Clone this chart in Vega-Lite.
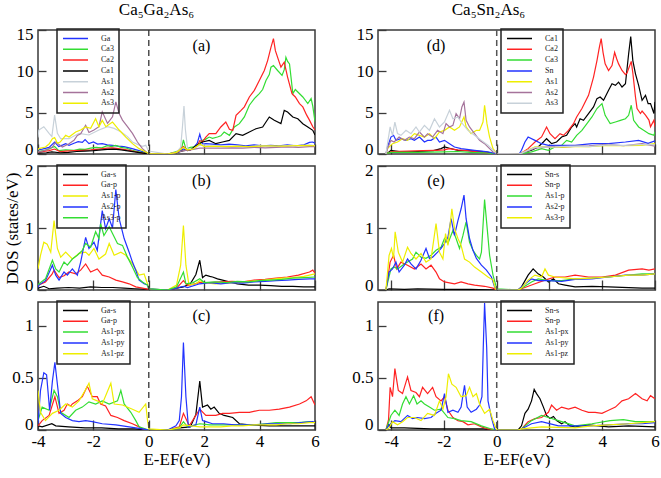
{
"$schema":"https://vega.github.io/schema/vega-lite/v6.json",
"padding":{"left":2,"top":0,"right":0,"bottom":0},
"config":{
"font":"Liberation Serif",
"view":{"stroke":"#3a3a3a","strokeWidth":1.5},
"axis":{"domain":false,"grid":false,"tickColor":"#3a3a3a","tickWidth":1.3,"labelFont":"Liberation Serif","labelFontSize":17,"labelColor":"#000","labelFlush":false,"labelOverlap":false,"titleFont":"Liberation Serif","titleFontSize":17,"titleFontWeight":"normal","titleColor":"#000"},
"axisY":{"labelFlush":true,"labelFlushOffset":4},
"legend":{"strokeColor":"#222","strokeWidth":1.5,"padding":5,"symbolType":"stroke","symbolSize":625,"symbolStrokeWidth":1.5,"labelFont":"Liberation Serif","labelFontSize":8,"labelColor":"#222","labelOffset":12,"clipHeight":9,"rowPadding":1.8},
"title":{"font":"Liberation Serif","fontSize":17,"fontWeight":"normal","color":"#000"}
},
"datasets":{
"a":[
{"s":"Ga","x":-4,"y":0.5},{"s":"Ga","x":-3.85,"y":0.6},{"s":"Ga","x":-3.6,"y":0.8},{"s":"Ga","x":-3.4,"y":1.45},{"s":"Ga","x":-3.25,"y":0.9},{"s":"Ga","x":-3.1,"y":1.1},{"s":"Ga","x":-3,"y":1.25},{"s":"Ga","x":-2.88,"y":1.05},{"s":"Ga","x":-2.7,"y":1.3},{"s":"Ga","x":-2.55,"y":1.5},{"s":"Ga","x":-2.4,"y":1.4},{"s":"Ga","x":-2.3,"y":1.75},{"s":"Ga","x":-2.16,"y":1.25},{"s":"Ga","x":-2,"y":1.45},{"s":"Ga","x":-1.85,"y":1.2},{"s":"Ga","x":-1.68,"y":1.25},{"s":"Ga","x":-1.5,"y":1.1},{"s":"Ga","x":-1.31,"y":1.05},{"s":"Ga","x":-1.1,"y":0.95},{"s":"Ga","x":-0.9,"y":0.9},{"s":"Ga","x":-0.6,"y":0.65},{"s":"Ga","x":-0.35,"y":0.4},{"s":"Ga","x":-0.15,"y":0.2},{"s":"Ga","x":0,"y":0.05},
{"s":"Ga","x":0.68,"y":0},{"s":"Ga","x":0.9,"y":0.1},{"s":"Ga","x":1.1,"y":0.3},{"s":"Ga","x":1.25,"y":0.6},{"s":"Ga","x":1.4,"y":0.4},{"s":"Ga","x":1.6,"y":0.7},{"s":"Ga","x":1.75,"y":1.3},{"s":"Ga","x":1.84,"y":2.4},{"s":"Ga","x":1.94,"y":1.2},{"s":"Ga","x":2.06,"y":1.25},{"s":"Ga","x":2.3,"y":1.2},{"s":"Ga","x":2.6,"y":1.1},{"s":"Ga","x":2.9,"y":1.2},{"s":"Ga","x":3.2,"y":1.1},{"s":"Ga","x":3.5,"y":1},{"s":"Ga","x":3.8,"y":1.1},{"s":"Ga","x":4.1,"y":1},{"s":"Ga","x":4.4,"y":1.05},{"s":"Ga","x":4.7,"y":1},{"s":"Ga","x":5,"y":1.1},{"s":"Ga","x":5.3,"y":1},{"s":"Ga","x":5.6,"y":1.1},{"s":"Ga","x":5.8,"y":1.4},{"s":"Ga","x":5.92,"y":1.45},{"s":"Ga","x":6,"y":1.3},
{"s":"Ca3","x":-4,"y":0.3},{"s":"Ca3","x":-3.8,"y":0.4},{"s":"Ca3","x":-3.6,"y":0.6},{"s":"Ca3","x":-3.4,"y":0.9},{"s":"Ca3","x":-3.25,"y":0.4},{"s":"Ca3","x":-3,"y":0.5},{"s":"Ca3","x":-2.7,"y":0.45},{"s":"Ca3","x":-2.5,"y":0.6},{"s":"Ca3","x":-2.3,"y":0.55},{"s":"Ca3","x":-2.1,"y":0.7},{"s":"Ca3","x":-1.9,"y":0.8},{"s":"Ca3","x":-1.7,"y":0.75},{"s":"Ca3","x":-1.5,"y":1},{"s":"Ca3","x":-1.35,"y":0.9},{"s":"Ca3","x":-1.2,"y":1.05},{"s":"Ca3","x":-1,"y":0.8},{"s":"Ca3","x":-0.8,"y":0.7},{"s":"Ca3","x":-0.6,"y":0.45},{"s":"Ca3","x":-0.4,"y":0.3},{"s":"Ca3","x":-0.2,"y":0.15},{"s":"Ca3","x":0,"y":0.02},
{"s":"Ca3","x":0.68,"y":0},{"s":"Ca3","x":1,"y":0.3},{"s":"Ca3","x":1.18,"y":0.6},{"s":"Ca3","x":1.25,"y":1.7},{"s":"Ca3","x":1.34,"y":0.6},{"s":"Ca3","x":1.5,"y":0.8},{"s":"Ca3","x":1.7,"y":0.9},{"s":"Ca3","x":1.84,"y":1.3},{"s":"Ca3","x":1.94,"y":1.65},{"s":"Ca3","x":2.06,"y":1.8},{"s":"Ca3","x":2.18,"y":2.05},{"s":"Ca3","x":2.3,"y":1.9},{"s":"Ca3","x":2.48,"y":2.06},{"s":"Ca3","x":2.6,"y":2.2},{"s":"Ca3","x":2.72,"y":2.66},{"s":"Ca3","x":2.91,"y":2.26},{"s":"Ca3","x":3.09,"y":3.27},{"s":"Ca3","x":3.27,"y":3.67},{"s":"Ca3","x":3.45,"y":4.48},{"s":"Ca3","x":3.63,"y":5.9},{"s":"Ca3","x":3.81,"y":6.7},{"s":"Ca3","x":3.99,"y":7.3},{"s":"Ca3","x":4.11,"y":7.8},{"s":"Ca3","x":4.23,"y":8.9},{"s":"Ca3","x":4.35,"y":9.6},{"s":"Ca3","x":4.41,"y":10.5},{"s":"Ca3","x":4.5,"y":10.7},{"s":"Ca3","x":4.65,"y":10.1},{"s":"Ca3","x":4.81,"y":9.5},{"s":"Ca3","x":4.89,"y":10.2},{"s":"Ca3","x":4.95,"y":11.7},{"s":"Ca3","x":5.01,"y":11.2},{"s":"Ca3","x":5.08,"y":10.9},{"s":"Ca3","x":5.2,"y":7.3},{"s":"Ca3","x":5.29,"y":7.8},{"s":"Ca3","x":5.38,"y":7.5},{"s":"Ca3","x":5.56,"y":6.9},{"s":"Ca3","x":5.74,"y":6.1},{"s":"Ca3","x":5.86,"y":6.7},{"s":"Ca3","x":5.92,"y":5.8},{"s":"Ca3","x":6,"y":3.9},
{"s":"Ca2","x":-4,"y":0.2},{"s":"Ca2","x":-3.8,"y":0.3},{"s":"Ca2","x":-3.6,"y":0.4},{"s":"Ca2","x":-3.4,"y":0.6},{"s":"Ca2","x":-3.2,"y":0.3},{"s":"Ca2","x":-3,"y":0.35},{"s":"Ca2","x":-2.7,"y":0.4},{"s":"Ca2","x":-2.4,"y":0.45},{"s":"Ca2","x":-2.1,"y":0.5},{"s":"Ca2","x":-1.8,"y":0.6},{"s":"Ca2","x":-1.5,"y":0.7},{"s":"Ca2","x":-1.3,"y":0.75},{"s":"Ca2","x":-1.1,"y":0.65},{"s":"Ca2","x":-0.8,"y":0.5},{"s":"Ca2","x":-0.5,"y":0.3},{"s":"Ca2","x":-0.25,"y":0.12},{"s":"Ca2","x":0,"y":0.02},
{"s":"Ca2","x":0.68,"y":0},{"s":"Ca2","x":1,"y":0.2},{"s":"Ca2","x":1.25,"y":0.9},{"s":"Ca2","x":1.4,"y":0.4},{"s":"Ca2","x":1.6,"y":0.6},{"s":"Ca2","x":1.75,"y":1},{"s":"Ca2","x":1.84,"y":1.6},{"s":"Ca2","x":1.94,"y":1.5},{"s":"Ca2","x":2.06,"y":2.05},{"s":"Ca2","x":2.18,"y":2.46},{"s":"Ca2","x":2.42,"y":2.46},{"s":"Ca2","x":2.6,"y":3.27},{"s":"Ca2","x":2.78,"y":3.87},{"s":"Ca2","x":2.91,"y":3},{"s":"Ca2","x":3.03,"y":2.86},{"s":"Ca2","x":3.15,"y":4.68},{"s":"Ca2","x":3.33,"y":5.28},{"s":"Ca2","x":3.45,"y":5.7},{"s":"Ca2","x":3.63,"y":6.9},{"s":"Ca2","x":3.81,"y":7.7},{"s":"Ca2","x":3.99,"y":8.9},{"s":"Ca2","x":4.17,"y":10.1},{"s":"Ca2","x":4.29,"y":11.3},{"s":"Ca2","x":4.41,"y":12.9},{"s":"Ca2","x":4.5,"y":13.95},{"s":"Ca2","x":4.57,"y":12.5},{"s":"Ca2","x":4.69,"y":11.3},{"s":"Ca2","x":4.77,"y":10.5},{"s":"Ca2","x":4.89,"y":11.1},{"s":"Ca2","x":5.01,"y":9.3},{"s":"Ca2","x":5.17,"y":7.3},{"s":"Ca2","x":5.29,"y":6.9},{"s":"Ca2","x":5.44,"y":6.1},{"s":"Ca2","x":5.56,"y":5.7},{"s":"Ca2","x":5.7,"y":4.7},{"s":"Ca2","x":5.8,"y":4.1},{"s":"Ca2","x":5.92,"y":3.3},{"s":"Ca2","x":6,"y":2.9},
{"s":"Ca1","x":-4,"y":0.1},{"s":"Ca1","x":-3.7,"y":0.15},{"s":"Ca1","x":-3.5,"y":0.25},{"s":"Ca1","x":-3.2,"y":0.15},{"s":"Ca1","x":-2.9,"y":0.2},{"s":"Ca1","x":-2.6,"y":0.3},{"s":"Ca1","x":-2.3,"y":0.35},{"s":"Ca1","x":-2,"y":0.4},{"s":"Ca1","x":-1.7,"y":0.5},{"s":"Ca1","x":-1.5,"y":0.55},{"s":"Ca1","x":-1.25,"y":0.6},{"s":"Ca1","x":-1,"y":0.5},{"s":"Ca1","x":-0.7,"y":0.35},{"s":"Ca1","x":-0.4,"y":0.2},{"s":"Ca1","x":-0.15,"y":0.08},{"s":"Ca1","x":0,"y":0.01},
{"s":"Ca1","x":0.68,"y":0},{"s":"Ca1","x":1,"y":0.15},{"s":"Ca1","x":1.25,"y":0.4},{"s":"Ca1","x":1.5,"y":0.5},{"s":"Ca1","x":1.7,"y":1},{"s":"Ca1","x":1.94,"y":1.45},{"s":"Ca1","x":2.18,"y":1.65},{"s":"Ca1","x":2.42,"y":1.25},{"s":"Ca1","x":2.66,"y":1.45},{"s":"Ca1","x":2.91,"y":1.65},{"s":"Ca1","x":3.15,"y":2.46},{"s":"Ca1","x":3.39,"y":2.26},{"s":"Ca1","x":3.63,"y":2.66},{"s":"Ca1","x":3.87,"y":3.06},{"s":"Ca1","x":4.11,"y":3.27},{"s":"Ca1","x":4.35,"y":4.48},{"s":"Ca1","x":4.53,"y":4.07},{"s":"Ca1","x":4.77,"y":3.67},{"s":"Ca1","x":4.89,"y":5.28},{"s":"Ca1","x":5.01,"y":5.08},{"s":"Ca1","x":5.2,"y":4.48},{"s":"Ca1","x":5.38,"y":4.27},{"s":"Ca1","x":5.56,"y":3.67},{"s":"Ca1","x":5.74,"y":3.27},{"s":"Ca1","x":5.92,"y":2.86},{"s":"Ca1","x":6,"y":2.3},
{"s":"As1","x":-4,"y":2},{"s":"As1","x":-3.97,"y":2.9},{"s":"As1","x":-3.79,"y":3.3},{"s":"As1","x":-3.6,"y":2.5},{"s":"As1","x":-3.5,"y":2.1},{"s":"As1","x":-3.4,"y":4.7},{"s":"As1","x":-3.3,"y":2.5},{"s":"As1","x":-3.18,"y":1.85},{"s":"As1","x":-2.88,"y":1.85},{"s":"As1","x":-2.52,"y":2.5},{"s":"As1","x":-2.16,"y":2.3},{"s":"As1","x":-1.8,"y":2.9},{"s":"As1","x":-1.49,"y":3.3},{"s":"As1","x":-1.25,"y":3.1},{"s":"As1","x":-1.01,"y":2.7},{"s":"As1","x":-0.77,"y":2.1},{"s":"As1","x":-0.59,"y":1.45},{"s":"As1","x":-0.41,"y":1.17},{"s":"As1","x":-0.23,"y":0.93},{"s":"As1","x":-0.11,"y":1.05},{"s":"As1","x":-0.01,"y":0.36},
{"s":"As1","x":0.68,"y":0},{"s":"As1","x":1,"y":0.2},{"s":"As1","x":1.15,"y":0.8},{"s":"As1","x":1.22,"y":3.5},{"s":"As1","x":1.27,"y":5.8},{"s":"As1","x":1.32,"y":3},{"s":"As1","x":1.4,"y":0.6},{"s":"As1","x":1.6,"y":0.6},{"s":"As1","x":1.8,"y":1},{"s":"As1","x":1.94,"y":1.1},{"s":"As1","x":2.2,"y":1},{"s":"As1","x":2.5,"y":0.9},{"s":"As1","x":2.8,"y":1},{"s":"As1","x":3.1,"y":0.9},{"s":"As1","x":3.4,"y":0.85},{"s":"As1","x":3.7,"y":0.9},{"s":"As1","x":4,"y":1},{"s":"As1","x":4.3,"y":0.95},{"s":"As1","x":4.6,"y":0.9},{"s":"As1","x":4.9,"y":1},{"s":"As1","x":5.2,"y":1.05},{"s":"As1","x":5.5,"y":1},{"s":"As1","x":5.8,"y":1.1},{"s":"As1","x":6,"y":1},
{"s":"As2","x":-4,"y":0.2},{"s":"As2","x":-3.97,"y":0.25},{"s":"As2","x":-3.73,"y":0.45},{"s":"As2","x":-3.48,"y":0.85},{"s":"As2","x":-3.36,"y":1.45},{"s":"As2","x":-3.12,"y":0.85},{"s":"As2","x":-2.88,"y":1.25},{"s":"As2","x":-2.7,"y":1.65},{"s":"As2","x":-2.58,"y":2.25},{"s":"As2","x":-2.46,"y":2.45},{"s":"As2","x":-2.28,"y":3.47},{"s":"As2","x":-2.16,"y":2.6},{"s":"As2","x":-1.98,"y":2.9},{"s":"As2","x":-1.8,"y":3.3},{"s":"As2","x":-1.68,"y":5.1},{"s":"As2","x":-1.49,"y":3.7},{"s":"As2","x":-1.31,"y":4.5},{"s":"As2","x":-1.19,"y":6.3},{"s":"As2","x":-1.07,"y":4.9},{"s":"As2","x":-0.95,"y":4.1},{"s":"As2","x":-0.77,"y":3.3},{"s":"As2","x":-0.59,"y":2.5},{"s":"As2","x":-0.41,"y":1.45},{"s":"As2","x":-0.23,"y":0.65},{"s":"As2","x":-0.05,"y":0.12},{"s":"As2","x":0,"y":0.05},
{"s":"As2","x":0.68,"y":0},{"s":"As2","x":1,"y":0.2},{"s":"As2","x":1.25,"y":0.4},{"s":"As2","x":1.5,"y":0.5},{"s":"As2","x":1.84,"y":0.7},{"s":"As2","x":2.2,"y":0.7},{"s":"As2","x":2.6,"y":0.7},{"s":"As2","x":3,"y":0.75},{"s":"As2","x":3.4,"y":0.7},{"s":"As2","x":3.8,"y":0.8},{"s":"As2","x":4.2,"y":0.75},{"s":"As2","x":4.6,"y":0.8},{"s":"As2","x":5,"y":0.85},{"s":"As2","x":5.4,"y":0.8},{"s":"As2","x":5.8,"y":0.9},{"s":"As2","x":6,"y":0.9},
{"s":"As3","x":-4,"y":0.5},{"s":"As3","x":-3.97,"y":0.65},{"s":"As3","x":-3.73,"y":0.85},{"s":"As3","x":-3.6,"y":1.2},{"s":"As3","x":-3.48,"y":1.85},{"s":"As3","x":-3.4,"y":2},{"s":"As3","x":-3.3,"y":1.3},{"s":"As3","x":-3.2,"y":1.45},{"s":"As3","x":-3,"y":2.26},{"s":"As3","x":-2.88,"y":2.05},{"s":"As3","x":-2.64,"y":2.66},{"s":"As3","x":-2.46,"y":2.9},{"s":"As3","x":-2.28,"y":3.27},{"s":"As3","x":-2.1,"y":3.1},{"s":"As3","x":-1.92,"y":4.27},{"s":"As3","x":-1.8,"y":3.3},{"s":"As3","x":-1.68,"y":4.07},{"s":"As3","x":-1.55,"y":3.3},{"s":"As3","x":-1.31,"y":3.87},{"s":"As3","x":-1.07,"y":2.9},{"s":"As3","x":-0.83,"y":2.05},{"s":"As3","x":-0.59,"y":1.25},{"s":"As3","x":-0.35,"y":0.65},{"s":"As3","x":-0.11,"y":0.25},{"s":"As3","x":0,"y":0.05},
{"s":"As3","x":0.68,"y":0},{"s":"As3","x":1,"y":0.2},{"s":"As3","x":1.25,"y":0.8},{"s":"As3","x":1.4,"y":0.5},{"s":"As3","x":1.6,"y":0.6},{"s":"As3","x":1.84,"y":1.2},{"s":"As3","x":2,"y":0.9},{"s":"As3","x":2.4,"y":0.95},{"s":"As3","x":2.8,"y":0.9},{"s":"As3","x":3.2,"y":0.95},{"s":"As3","x":3.6,"y":0.9},{"s":"As3","x":4,"y":0.95},{"s":"As3","x":4.4,"y":1},{"s":"As3","x":4.8,"y":0.95},{"s":"As3","x":5.2,"y":1},{"s":"As3","x":5.6,"y":1.05},{"s":"As3","x":6,"y":1}
],
"b":[
{"s":"Ga-s","x":-4,"y":0.03},{"s":"Ga-s","x":-3.79,"y":0.06},{"s":"Ga-s","x":-3.6,"y":0.02},{"s":"Ga-s","x":-3.3,"y":0.03},{"s":"Ga-s","x":-2.9,"y":0.04},{"s":"Ga-s","x":-2.5,"y":0.03},{"s":"Ga-s","x":-2.1,"y":0.05},{"s":"Ga-s","x":-1.7,"y":0.04},{"s":"Ga-s","x":-1.3,"y":0.04},{"s":"Ga-s","x":-0.9,"y":0.03},{"s":"Ga-s","x":-0.5,"y":0.02},{"s":"Ga-s","x":0,"y":0.01},{"s":"Ga-s","x":0.68,"y":0},{"s":"Ga-s","x":1,"y":0.03},{"s":"Ga-s","x":1.25,"y":0.05},{"s":"Ga-s","x":1.5,"y":0.1},{"s":"Ga-s","x":1.7,"y":0.25},{"s":"Ga-s","x":1.84,"y":0.48},{"s":"Ga-s","x":1.94,"y":0.2},{"s":"Ga-s","x":2.06,"y":0.24},{"s":"Ga-s","x":2.2,"y":0.22},{"s":"Ga-s","x":2.3,"y":0.21},{"s":"Ga-s","x":2.48,"y":0.18},{"s":"Ga-s","x":2.66,"y":0.16},{"s":"Ga-s","x":2.9,"y":0.13},{"s":"Ga-s","x":3.2,"y":0.1},{"s":"Ga-s","x":3.6,"y":0.08},{"s":"Ga-s","x":4,"y":0.08},{"s":"Ga-s","x":4.4,"y":0.07},{"s":"Ga-s","x":4.8,"y":0.06},{"s":"Ga-s","x":5.2,"y":0.06},{"s":"Ga-s","x":5.6,"y":0.05},{"s":"Ga-s","x":6,"y":0.05},
{"s":"Ga-p","x":-4,"y":0.05},{"s":"Ga-p","x":-3.97,"y":0.08},{"s":"Ga-p","x":-3.73,"y":0.13},{"s":"Ga-p","x":-3.5,"y":0.25},{"s":"Ga-p","x":-3.42,"y":0.32},{"s":"Ga-p","x":-3.24,"y":0.2},{"s":"Ga-p","x":-3.06,"y":0.23},{"s":"Ga-p","x":-2.88,"y":0.29},{"s":"Ga-p","x":-2.64,"y":0.26},{"s":"Ga-p","x":-2.46,"y":0.32},{"s":"Ga-p","x":-2.28,"y":0.42},{"s":"Ga-p","x":-2.1,"y":0.29},{"s":"Ga-p","x":-1.86,"y":0.34},{"s":"Ga-p","x":-1.68,"y":0.24},{"s":"Ga-p","x":-1.43,"y":0.21},{"s":"Ga-p","x":-1.19,"y":0.16},{"s":"Ga-p","x":-0.95,"y":0.13},{"s":"Ga-p","x":-0.71,"y":0.1},{"s":"Ga-p","x":-0.47,"y":0.05},{"s":"Ga-p","x":-0.23,"y":0.03},{"s":"Ga-p","x":0,"y":0.01},{"s":"Ga-p","x":0.68,"y":0},{"s":"Ga-p","x":1,"y":0.03},{"s":"Ga-p","x":1.25,"y":0.15},{"s":"Ga-p","x":1.4,"y":0.07},{"s":"Ga-p","x":1.84,"y":0.12},{"s":"Ga-p","x":2.2,"y":0.12},{"s":"Ga-p","x":2.6,"y":0.13},{"s":"Ga-p","x":3,"y":0.14},{"s":"Ga-p","x":3.4,"y":0.13},{"s":"Ga-p","x":3.8,"y":0.16},{"s":"Ga-p","x":4.2,"y":0.17},{"s":"Ga-p","x":4.6,"y":0.19},{"s":"Ga-p","x":5,"y":0.21},{"s":"Ga-p","x":5.4,"y":0.24},{"s":"Ga-p","x":5.8,"y":0.29},{"s":"Ga-p","x":5.92,"y":0.32},{"s":"Ga-p","x":6,"y":0.27},
{"s":"As1-p","x":-4,"y":0.34},{"s":"As1-p","x":-3.91,"y":0.56},{"s":"As1-p","x":-3.79,"y":0.77},{"s":"As1-p","x":-3.67,"y":0.74},{"s":"As1-p","x":-3.54,"y":0.61},{"s":"As1-p","x":-3.42,"y":1.12},{"s":"As1-p","x":-3.3,"y":0.67},{"s":"As1-p","x":-3.18,"y":0.53},{"s":"As1-p","x":-3,"y":0.61},{"s":"As1-p","x":-2.76,"y":0.5},{"s":"As1-p","x":-2.52,"y":0.59},{"s":"As1-p","x":-2.28,"y":0.61},{"s":"As1-p","x":-2.16,"y":0.56},{"s":"As1-p","x":-1.98,"y":0.67},{"s":"As1-p","x":-1.8,"y":0.5},{"s":"As1-p","x":-1.56,"y":0.58},{"s":"As1-p","x":-1.43,"y":0.75},{"s":"As1-p","x":-1.25,"y":0.56},{"s":"As1-p","x":-1.01,"y":0.61},{"s":"As1-p","x":-0.83,"y":0.56},{"s":"As1-p","x":-0.59,"y":0.42},{"s":"As1-p","x":-0.35,"y":0.24},{"s":"As1-p","x":-0.17,"y":0.26},{"s":"As1-p","x":-0.05,"y":0.1},{"s":"As1-p","x":0,"y":0.02},{"s":"As1-p","x":0.68,"y":0},{"s":"As1-p","x":1,"y":0.08},{"s":"As1-p","x":1.15,"y":0.4},{"s":"As1-p","x":1.25,"y":1.04},{"s":"As1-p","x":1.34,"y":0.4},{"s":"As1-p","x":1.45,"y":0.08},{"s":"As1-p","x":1.7,"y":0.1},{"s":"As1-p","x":1.84,"y":0.15},{"s":"As1-p","x":2,"y":0.12},{"s":"As1-p","x":2.4,"y":0.1},{"s":"As1-p","x":2.8,"y":0.11},{"s":"As1-p","x":3.2,"y":0.12},{"s":"As1-p","x":3.6,"y":0.14},{"s":"As1-p","x":4,"y":0.15},{"s":"As1-p","x":4.4,"y":0.17},{"s":"As1-p","x":4.8,"y":0.19},{"s":"As1-p","x":5.2,"y":0.2},{"s":"As1-p","x":5.6,"y":0.22},{"s":"As1-p","x":6,"y":0.26},
{"s":"As2-p","x":-4,"y":0.04},{"s":"As2-p","x":-3.97,"y":0.08},{"s":"As2-p","x":-3.73,"y":0.15},{"s":"As2-p","x":-3.48,"y":0.4},{"s":"As2-p","x":-3.36,"y":0.24},{"s":"As2-p","x":-3.24,"y":0.16},{"s":"As2-p","x":-3.06,"y":0.29},{"s":"As2-p","x":-2.94,"y":0.24},{"s":"As2-p","x":-2.76,"y":0.34},{"s":"As2-p","x":-2.58,"y":0.24},{"s":"As2-p","x":-2.46,"y":0.45},{"s":"As2-p","x":-2.28,"y":0.85},{"s":"As2-p","x":-2.16,"y":0.67},{"s":"As2-p","x":-1.98,"y":0.77},{"s":"As2-p","x":-1.86,"y":0.64},{"s":"As2-p","x":-1.68,"y":1.28},{"s":"As2-p","x":-1.56,"y":0.99},{"s":"As2-p","x":-1.43,"y":1.15},{"s":"As2-p","x":-1.31,"y":1},{"s":"As2-p","x":-1.19,"y":1.62},{"s":"As2-p","x":-1.07,"y":1.15},{"s":"As2-p","x":-0.89,"y":0.83},{"s":"As2-p","x":-0.71,"y":0.61},{"s":"As2-p","x":-0.59,"y":0.45},{"s":"As2-p","x":-0.47,"y":0.32},{"s":"As2-p","x":-0.35,"y":0.16},{"s":"As2-p","x":-0.17,"y":0.1},{"s":"As2-p","x":-0.05,"y":0.08},{"s":"As2-p","x":0,"y":0.02},{"s":"As2-p","x":0.68,"y":0},{"s":"As2-p","x":1,"y":0.03},{"s":"As2-p","x":1.25,"y":0.06},{"s":"As2-p","x":1.4,"y":0.04},{"s":"As2-p","x":1.84,"y":0.1},{"s":"As2-p","x":2.2,"y":0.12},{"s":"As2-p","x":2.6,"y":0.1},{"s":"As2-p","x":3,"y":0.12},{"s":"As2-p","x":3.4,"y":0.11},{"s":"As2-p","x":3.8,"y":0.13},{"s":"As2-p","x":4.2,"y":0.14},{"s":"As2-p","x":4.6,"y":0.15},{"s":"As2-p","x":5,"y":0.16},{"s":"As2-p","x":5.4,"y":0.17},{"s":"As2-p","x":5.8,"y":0.18},{"s":"As2-p","x":6,"y":0.18},
{"s":"As3-p","x":-4,"y":0.08},{"s":"As3-p","x":-3.97,"y":0.1},{"s":"As3-p","x":-3.73,"y":0.18},{"s":"As3-p","x":-3.48,"y":0.48},{"s":"As3-p","x":-3.36,"y":0.34},{"s":"As3-p","x":-3.24,"y":0.29},{"s":"As3-p","x":-3.06,"y":0.45},{"s":"As3-p","x":-2.94,"y":0.4},{"s":"As3-p","x":-2.76,"y":0.5},{"s":"As3-p","x":-2.58,"y":0.56},{"s":"As3-p","x":-2.4,"y":0.64},{"s":"As3-p","x":-2.28,"y":0.75},{"s":"As3-p","x":-2.1,"y":0.69},{"s":"As3-p","x":-1.92,"y":0.94},{"s":"As3-p","x":-1.8,"y":0.83},{"s":"As3-p","x":-1.74,"y":1.07},{"s":"As3-p","x":-1.62,"y":0.88},{"s":"As3-p","x":-1.43,"y":1.02},{"s":"As3-p","x":-1.31,"y":0.91},{"s":"As3-p","x":-1.13,"y":0.75},{"s":"As3-p","x":-0.95,"y":0.72},{"s":"As3-p","x":-0.77,"y":0.53},{"s":"As3-p","x":-0.59,"y":0.37},{"s":"As3-p","x":-0.41,"y":0.2},{"s":"As3-p","x":-0.23,"y":0.13},{"s":"As3-p","x":-0.05,"y":0.08},{"s":"As3-p","x":0,"y":0.02},{"s":"As3-p","x":0.68,"y":0},{"s":"As3-p","x":1,"y":0.05},{"s":"As3-p","x":1.25,"y":0.29},{"s":"As3-p","x":1.34,"y":0.1},{"s":"As3-p","x":1.6,"y":0.12},{"s":"As3-p","x":1.84,"y":0.18},{"s":"As3-p","x":2,"y":0.12},{"s":"As3-p","x":2.4,"y":0.13},{"s":"As3-p","x":2.8,"y":0.12},{"s":"As3-p","x":3.2,"y":0.14},{"s":"As3-p","x":3.6,"y":0.13},{"s":"As3-p","x":4,"y":0.15},{"s":"As3-p","x":4.4,"y":0.16},{"s":"As3-p","x":4.8,"y":0.17},{"s":"As3-p","x":5.2,"y":0.19},{"s":"As3-p","x":5.6,"y":0.2},{"s":"As3-p","x":6,"y":0.21}
],
"c":[
{"s":"Ga-s","x":-4,"y":0.04},{"s":"Ga-s","x":-3.85,"y":0.03},{"s":"Ga-s","x":-3.5,"y":0.06},{"s":"Ga-s","x":-3.36,"y":0.04},{"s":"Ga-s","x":-2.9,"y":0.03},{"s":"Ga-s","x":-2.3,"y":0.02},{"s":"Ga-s","x":-1.7,"y":0.02},{"s":"Ga-s","x":-1.1,"y":0.01},{"s":"Ga-s","x":-0.5,"y":0.01},{"s":"Ga-s","x":0,"y":0},{"s":"Ga-s","x":0.68,"y":0},{"s":"Ga-s","x":1.1,"y":0.02},{"s":"Ga-s","x":1.5,"y":0.03},{"s":"Ga-s","x":1.7,"y":0.15},{"s":"Ga-s","x":1.84,"y":0.47},{"s":"Ga-s","x":1.94,"y":0.22},{"s":"Ga-s","x":2.12,"y":0.24},{"s":"Ga-s","x":2.24,"y":0.2},{"s":"Ga-s","x":2.36,"y":0.22},{"s":"Ga-s","x":2.54,"y":0.16},{"s":"Ga-s","x":2.72,"y":0.14},{"s":"Ga-s","x":3.03,"y":0.12},{"s":"Ga-s","x":3.27,"y":0.06},{"s":"Ga-s","x":3.63,"y":0.05},{"s":"Ga-s","x":4.35,"y":0.04},{"s":"Ga-s","x":5.56,"y":0.04},{"s":"Ga-s","x":6,"y":0.04},
{"s":"Ga-p","x":-4,"y":0.04},{"s":"Ga-p","x":-3.85,"y":0.09},{"s":"Ga-p","x":-3.6,"y":0.14},{"s":"Ga-p","x":-3.39,"y":0.32},{"s":"Ga-p","x":-3.24,"y":0.16},{"s":"Ga-p","x":-3.06,"y":0.19},{"s":"Ga-p","x":-2.94,"y":0.25},{"s":"Ga-p","x":-2.82,"y":0.23},{"s":"Ga-p","x":-2.76,"y":0.25},{"s":"Ga-p","x":-2.58,"y":0.28},{"s":"Ga-p","x":-2.4,"y":0.32},{"s":"Ga-p","x":-2.22,"y":0.42},{"s":"Ga-p","x":-2.04,"y":0.32},{"s":"Ga-p","x":-1.86,"y":0.32},{"s":"Ga-p","x":-1.74,"y":0.25},{"s":"Ga-p","x":-1.56,"y":0.23},{"s":"Ga-p","x":-1.37,"y":0.14},{"s":"Ga-p","x":-1.13,"y":0.12},{"s":"Ga-p","x":-0.89,"y":0.09},{"s":"Ga-p","x":-0.59,"y":0.06},{"s":"Ga-p","x":-0.35,"y":0.03},{"s":"Ga-p","x":-0.23,"y":0.01},{"s":"Ga-p","x":0,"y":0},{"s":"Ga-p","x":0.68,"y":0},{"s":"Ga-p","x":1.1,"y":0.03},{"s":"Ga-p","x":1.25,"y":0.16},{"s":"Ga-p","x":1.46,"y":0.04},{"s":"Ga-p","x":1.84,"y":0.2},{"s":"Ga-p","x":2.06,"y":0.14},{"s":"Ga-p","x":2.42,"y":0.14},{"s":"Ga-p","x":2.66,"y":0.16},{"s":"Ga-p","x":2.91,"y":0.16},{"s":"Ga-p","x":3.27,"y":0.17},{"s":"Ga-p","x":3.63,"y":0.17},{"s":"Ga-p","x":3.99,"y":0.19},{"s":"Ga-p","x":4.35,"y":0.19},{"s":"Ga-p","x":4.71,"y":0.2},{"s":"Ga-p","x":5.08,"y":0.22},{"s":"Ga-p","x":5.44,"y":0.25},{"s":"Ga-p","x":5.68,"y":0.28},{"s":"Ga-p","x":5.86,"y":0.32},{"s":"Ga-p","x":6,"y":0.24},
{"s":"As1-px","x":-4,"y":0.09},{"s":"As1-px","x":-3.85,"y":0.22},{"s":"As1-px","x":-3.6,"y":0.19},{"s":"As1-px","x":-3.42,"y":0.38},{"s":"As1-px","x":-3.3,"y":0.32},{"s":"As1-px","x":-3.18,"y":0.17},{"s":"As1-px","x":-2.88,"y":0.12},{"s":"As1-px","x":-2.64,"y":0.19},{"s":"As1-px","x":-2.4,"y":0.22},{"s":"As1-px","x":-2.16,"y":0.27},{"s":"As1-px","x":-1.92,"y":0.25},{"s":"As1-px","x":-1.68,"y":0.28},{"s":"As1-px","x":-1.43,"y":0.25},{"s":"As1-px","x":-1.13,"y":0.28},{"s":"As1-px","x":-1.01,"y":0.38},{"s":"As1-px","x":-0.89,"y":0.25},{"s":"As1-px","x":-0.65,"y":0.17},{"s":"As1-px","x":-0.47,"y":0.09},{"s":"As1-px","x":-0.35,"y":0.03},{"s":"As1-px","x":0,"y":0},{"s":"As1-px","x":0.68,"y":0},{"s":"As1-px","x":1.1,"y":0.02},{"s":"As1-px","x":1.25,"y":0.08},{"s":"As1-px","x":1.4,"y":0.03},{"s":"As1-px","x":1.84,"y":0.06},{"s":"As1-px","x":2.2,"y":0.05},{"s":"As1-px","x":2.6,"y":0.05},{"s":"As1-px","x":3,"y":0.05},{"s":"As1-px","x":3.4,"y":0.05},{"s":"As1-px","x":3.8,"y":0.05},{"s":"As1-px","x":4.2,"y":0.06},{"s":"As1-px","x":4.6,"y":0.07},{"s":"As1-px","x":5,"y":0.07},{"s":"As1-px","x":5.4,"y":0.07},{"s":"As1-px","x":5.8,"y":0.08},{"s":"As1-px","x":6,"y":0.07},
{"s":"As1-py","x":-4,"y":0.06},{"s":"As1-py","x":-3.91,"y":0.38},{"s":"As1-py","x":-3.79,"y":0.55},{"s":"As1-py","x":-3.69,"y":0.53},{"s":"As1-py","x":-3.58,"y":0.19},{"s":"As1-py","x":-3.48,"y":0.47},{"s":"As1-py","x":-3.39,"y":0.65},{"s":"As1-py","x":-3.3,"y":0.44},{"s":"As1-py","x":-3.18,"y":0.16},{"s":"As1-py","x":-3,"y":0.12},{"s":"As1-py","x":-2.76,"y":0.09},{"s":"As1-py","x":-2.52,"y":0.08},{"s":"As1-py","x":-2.28,"y":0.09},{"s":"As1-py","x":-2.04,"y":0.08},{"s":"As1-py","x":-1.68,"y":0.06},{"s":"As1-py","x":-1.19,"y":0.05},{"s":"As1-py","x":-0.71,"y":0.03},{"s":"As1-py","x":-0.23,"y":0.01},{"s":"As1-py","x":0,"y":0},{"s":"As1-py","x":0.68,"y":0},{"s":"As1-py","x":0.98,"y":0.04},{"s":"As1-py","x":1.1,"y":0.09},{"s":"As1-py","x":1.18,"y":0.32},{"s":"As1-py","x":1.25,"y":0.84},{"s":"As1-py","x":1.34,"y":0.32},{"s":"As1-py","x":1.43,"y":0.03},{"s":"As1-py","x":1.7,"y":0.05},{"s":"As1-py","x":1.84,"y":0.22},{"s":"As1-py","x":1.94,"y":0.09},{"s":"As1-py","x":2.06,"y":0.08},{"s":"As1-py","x":2.3,"y":0.06},{"s":"As1-py","x":2.7,"y":0.06},{"s":"As1-py","x":3.1,"y":0.05},{"s":"As1-py","x":3.5,"y":0.05},{"s":"As1-py","x":3.9,"y":0.05},{"s":"As1-py","x":4.3,"y":0.06},{"s":"As1-py","x":4.7,"y":0.06},{"s":"As1-py","x":5.1,"y":0.06},{"s":"As1-py","x":5.5,"y":0.07},{"s":"As1-py","x":5.92,"y":0.08},{"s":"As1-py","x":6,"y":0.07},
{"s":"As1-pz","x":-4,"y":0.38},{"s":"As1-pz","x":-3.91,"y":0.17},{"s":"As1-pz","x":-3.73,"y":0.09},{"s":"As1-pz","x":-3.48,"y":0.16},{"s":"As1-pz","x":-3.24,"y":0.19},{"s":"As1-pz","x":-3,"y":0.25},{"s":"As1-pz","x":-2.76,"y":0.22},{"s":"As1-pz","x":-2.52,"y":0.28},{"s":"As1-pz","x":-2.3,"y":0.38},{"s":"As1-pz","x":-2.16,"y":0.45},{"s":"As1-pz","x":-2.04,"y":0.3},{"s":"As1-pz","x":-1.86,"y":0.28},{"s":"As1-pz","x":-1.68,"y":0.25},{"s":"As1-pz","x":-1.37,"y":0.45},{"s":"As1-pz","x":-1.25,"y":0.25},{"s":"As1-pz","x":-0.95,"y":0.24},{"s":"As1-pz","x":-0.59,"y":0.2},{"s":"As1-pz","x":-0.35,"y":0.17},{"s":"As1-pz","x":-0.11,"y":0.25},{"s":"As1-pz","x":-0.05,"y":0.1},{"s":"As1-pz","x":0,"y":0.01},{"s":"As1-pz","x":0.68,"y":0},{"s":"As1-pz","x":1.1,"y":0.02},{"s":"As1-pz","x":1.25,"y":0.05},{"s":"As1-pz","x":1.84,"y":0.03},{"s":"As1-pz","x":2.2,"y":0.03},{"s":"As1-pz","x":2.6,"y":0.03},{"s":"As1-pz","x":3,"y":0.04},{"s":"As1-pz","x":3.4,"y":0.04},{"s":"As1-pz","x":3.8,"y":0.05},{"s":"As1-pz","x":4.2,"y":0.05},{"s":"As1-pz","x":4.6,"y":0.05},{"s":"As1-pz","x":5,"y":0.06},{"s":"As1-pz","x":5.4,"y":0.06},{"s":"As1-pz","x":5.8,"y":0.07},{"s":"As1-pz","x":6,"y":0.07}
],
"d":[
{"s":"Ca1","x":-4.2,"y":0},{"s":"Ca1","x":-4.14,"y":0.1},{"s":"Ca1","x":-4.01,"y":0.45},{"s":"Ca1","x":-3.7,"y":0.3},{"s":"Ca1","x":-3.38,"y":0.25},{"s":"Ca1","x":-3,"y":0.3},{"s":"Ca1","x":-2.74,"y":0.35},{"s":"Ca1","x":-2.4,"y":0.4},{"s":"Ca1","x":-2.11,"y":0.65},{"s":"Ca1","x":-1.98,"y":0.85},{"s":"Ca1","x":-1.79,"y":0.7},{"s":"Ca1","x":-1.47,"y":0.45},{"s":"Ca1","x":-1.1,"y":0.4},{"s":"Ca1","x":-0.84,"y":0.35},{"s":"Ca1","x":-0.5,"y":0.3},{"s":"Ca1","x":-0.2,"y":0.12},{"s":"Ca1","x":0,"y":0.02},
{"s":"Ca1","x":0.85,"y":0},{"s":"Ca1","x":0.94,"y":0.12},{"s":"Ca1","x":1.32,"y":0.45},{"s":"Ca1","x":1.57,"y":0.85},{"s":"Ca1","x":1.77,"y":1.45},{"s":"Ca1","x":1.89,"y":1.85},{"s":"Ca1","x":2.08,"y":1.25},{"s":"Ca1","x":2.27,"y":1.45},{"s":"Ca1","x":2.46,"y":2.06},{"s":"Ca1","x":2.65,"y":2.26},{"s":"Ca1","x":2.84,"y":3.27},{"s":"Ca1","x":2.97,"y":3.67},{"s":"Ca1","x":3.03,"y":3.27},{"s":"Ca1","x":3.16,"y":4.27},{"s":"Ca1","x":3.29,"y":4.07},{"s":"Ca1","x":3.48,"y":4.88},{"s":"Ca1","x":3.67,"y":5.69},{"s":"Ca1","x":3.8,"y":6.7},{"s":"Ca1","x":3.92,"y":6.9},{"s":"Ca1","x":4.05,"y":6.5},{"s":"Ca1","x":4.24,"y":7.7},{"s":"Ca1","x":4.37,"y":8.5},{"s":"Ca1","x":4.5,"y":8.3},{"s":"Ca1","x":4.62,"y":8.7},{"s":"Ca1","x":4.75,"y":8.1},{"s":"Ca1","x":4.88,"y":8.5},{"s":"Ca1","x":5,"y":12.1},{"s":"Ca1","x":5.08,"y":14.2},{"s":"Ca1","x":5.16,"y":11.3},{"s":"Ca1","x":5.26,"y":9.7},{"s":"Ca1","x":5.38,"y":8.3},{"s":"Ca1","x":5.51,"y":6.5},{"s":"Ca1","x":5.64,"y":7.1},{"s":"Ca1","x":5.74,"y":6.1},{"s":"Ca1","x":5.83,"y":6.1},{"s":"Ca1","x":5.96,"y":4.9},{"s":"Ca1","x":6,"y":6.3},
{"s":"Ca2","x":-4.2,"y":0},{"s":"Ca2","x":-4.14,"y":0.1},{"s":"Ca2","x":-4,"y":0.3},{"s":"Ca2","x":-3.38,"y":0.35},{"s":"Ca2","x":-2.8,"y":0.4},{"s":"Ca2","x":-2.3,"y":0.45},{"s":"Ca2","x":-2,"y":0.5},{"s":"Ca2","x":-1.79,"y":0.65},{"s":"Ca2","x":-1.5,"y":0.5},{"s":"Ca2","x":-1.1,"y":0.4},{"s":"Ca2","x":-0.7,"y":0.25},{"s":"Ca2","x":-0.3,"y":0.1},{"s":"Ca2","x":0,"y":0.01},
{"s":"Ca2","x":0.85,"y":0},{"s":"Ca2","x":0.94,"y":0.12},{"s":"Ca2","x":1.19,"y":0.65},{"s":"Ca2","x":1.45,"y":1.45},{"s":"Ca2","x":1.7,"y":2.06},{"s":"Ca2","x":1.89,"y":3.27},{"s":"Ca2","x":2.02,"y":2.46},{"s":"Ca2","x":2.21,"y":1.85},{"s":"Ca2","x":2.4,"y":2.46},{"s":"Ca2","x":2.53,"y":2.26},{"s":"Ca2","x":2.72,"y":2.86},{"s":"Ca2","x":2.91,"y":3.67},{"s":"Ca2","x":3.03,"y":4.48},{"s":"Ca2","x":3.23,"y":5.5},{"s":"Ca2","x":3.48,"y":7.1},{"s":"Ca2","x":3.67,"y":9.3},{"s":"Ca2","x":3.8,"y":11.3},{"s":"Ca2","x":3.89,"y":12.9},{"s":"Ca2","x":3.96,"y":13.95},{"s":"Ca2","x":4.03,"y":12.3},{"s":"Ca2","x":4.11,"y":10.9},{"s":"Ca2","x":4.24,"y":10.1},{"s":"Ca2","x":4.37,"y":10.7},{"s":"Ca2","x":4.47,"y":12.3},{"s":"Ca2","x":4.55,"y":11.5},{"s":"Ca2","x":4.62,"y":10.9},{"s":"Ca2","x":4.75,"y":10.1},{"s":"Ca2","x":4.88,"y":9.6},{"s":"Ca2","x":4.94,"y":9.8},{"s":"Ca2","x":5.1,"y":11.2},{"s":"Ca2","x":5.16,"y":9.8},{"s":"Ca2","x":5.26,"y":6.9},{"s":"Ca2","x":5.32,"y":5.5},{"s":"Ca2","x":5.45,"y":4.9},{"s":"Ca2","x":5.51,"y":5.2},{"s":"Ca2","x":5.64,"y":4.7},{"s":"Ca2","x":5.77,"y":4.1},{"s":"Ca2","x":5.83,"y":3.3},{"s":"Ca2","x":5.96,"y":4.1},{"s":"Ca2","x":6,"y":3.3},
{"s":"Ca3","x":-4.2,"y":0},{"s":"Ca3","x":-4.14,"y":0.1},{"s":"Ca3","x":-4,"y":0.2},{"s":"Ca3","x":-3,"y":0.2},{"s":"Ca3","x":-2,"y":0.25},{"s":"Ca3","x":-1.5,"y":0.3},{"s":"Ca3","x":-1,"y":0.2},{"s":"Ca3","x":-0.5,"y":0.15},{"s":"Ca3","x":0,"y":0.01},
{"s":"Ca3","x":0.85,"y":0},{"s":"Ca3","x":0.94,"y":0.04},{"s":"Ca3","x":1.32,"y":0.25},{"s":"Ca3","x":1.7,"y":0.65},{"s":"Ca3","x":1.96,"y":0.45},{"s":"Ca3","x":2.21,"y":0.85},{"s":"Ca3","x":2.46,"y":1.05},{"s":"Ca3","x":2.65,"y":1.65},{"s":"Ca3","x":2.84,"y":1.45},{"s":"Ca3","x":3.03,"y":2.26},{"s":"Ca3","x":3.23,"y":2.86},{"s":"Ca3","x":3.42,"y":3.67},{"s":"Ca3","x":3.61,"y":4.48},{"s":"Ca3","x":3.8,"y":5.5},{"s":"Ca3","x":3.99,"y":6.1},{"s":"Ca3","x":4.11,"y":4.68},{"s":"Ca3","x":4.3,"y":3.67},{"s":"Ca3","x":4.5,"y":3.87},{"s":"Ca3","x":4.69,"y":4.07},{"s":"Ca3","x":4.88,"y":4.27},{"s":"Ca3","x":5,"y":4.68},{"s":"Ca3","x":5.1,"y":5.9},{"s":"Ca3","x":5.19,"y":4.07},{"s":"Ca3","x":5.38,"y":3.27},{"s":"Ca3","x":5.57,"y":2.86},{"s":"Ca3","x":5.77,"y":2.46},{"s":"Ca3","x":5.96,"y":2.26},{"s":"Ca3","x":6,"y":2.7},
{"s":"Sn","x":-4.2,"y":0},{"s":"Sn","x":-4.14,"y":0.85},{"s":"Sn","x":-4.01,"y":2.05},{"s":"Sn","x":-3.91,"y":2.26},{"s":"Sn","x":-3.82,"y":1.65},{"s":"Sn","x":-3.63,"y":1.85},{"s":"Sn","x":-3.44,"y":1.65},{"s":"Sn","x":-3.25,"y":1.85},{"s":"Sn","x":-3.12,"y":1.65},{"s":"Sn","x":-2.93,"y":2.05},{"s":"Sn","x":-2.74,"y":1.45},{"s":"Sn","x":-2.62,"y":1.65},{"s":"Sn","x":-2.49,"y":1.65},{"s":"Sn","x":-2.3,"y":2.05},{"s":"Sn","x":-2.17,"y":1.45},{"s":"Sn","x":-1.98,"y":1.65},{"s":"Sn","x":-1.79,"y":1.25},{"s":"Sn","x":-1.6,"y":0.85},{"s":"Sn","x":-1.35,"y":0.65},{"s":"Sn","x":-0.84,"y":0.45},{"s":"Sn","x":-0.33,"y":0.25},{"s":"Sn","x":-0.14,"y":0.12},{"s":"Sn","x":0,"y":0.02},
{"s":"Sn","x":0.85,"y":0},{"s":"Sn","x":0.94,"y":0.45},{"s":"Sn","x":1.07,"y":1.45},{"s":"Sn","x":1.19,"y":2.05},{"s":"Sn","x":1.45,"y":1.65},{"s":"Sn","x":1.7,"y":1.25},{"s":"Sn","x":1.96,"y":1.05},{"s":"Sn","x":2.46,"y":1.05},{"s":"Sn","x":2.97,"y":1.05},{"s":"Sn","x":3.61,"y":1.25},{"s":"Sn","x":4.24,"y":1.25},{"s":"Sn","x":4.88,"y":1.45},{"s":"Sn","x":5.38,"y":1.65},{"s":"Sn","x":5.74,"y":1.3},{"s":"Sn","x":6,"y":1.6},
{"s":"As1","x":-4.2,"y":0},{"s":"As1","x":-4.14,"y":0.65},{"s":"As1","x":-3.95,"y":1.25},{"s":"As1","x":-3.76,"y":1.45},{"s":"As1","x":-3.57,"y":1.85},{"s":"As1","x":-3.38,"y":1.65},{"s":"As1","x":-3.12,"y":2.46},{"s":"As1","x":-2.93,"y":2.26},{"s":"As1","x":-2.74,"y":2.06},{"s":"As1","x":-2.55,"y":2.46},{"s":"As1","x":-2.36,"y":1.85},{"s":"As1","x":-2.17,"y":2.66},{"s":"As1","x":-1.98,"y":2.86},{"s":"As1","x":-1.79,"y":3.27},{"s":"As1","x":-1.6,"y":2.86},{"s":"As1","x":-1.41,"y":3.27},{"s":"As1","x":-1.24,"y":4.48},{"s":"As1","x":-1.16,"y":3.27},{"s":"As1","x":-0.97,"y":2.46},{"s":"As1","x":-0.77,"y":2.86},{"s":"As1","x":-0.65,"y":2.86},{"s":"As1","x":-0.52,"y":3.87},{"s":"As1","x":-0.46,"y":5.9},{"s":"As1","x":-0.37,"y":3.67},{"s":"As1","x":-0.27,"y":2.05},{"s":"As1","x":-0.14,"y":0.65},{"s":"As1","x":0,"y":0.05},
{"s":"As1","x":0.85,"y":0},{"s":"As1","x":0.94,"y":0.12},{"s":"As1","x":1.45,"y":0.85},{"s":"As1","x":1.96,"y":0.85},{"s":"As1","x":2.5,"y":0.8},{"s":"As1","x":2.97,"y":0.93},{"s":"As1","x":3.5,"y":0.9},{"s":"As1","x":4.24,"y":1.05},{"s":"As1","x":4.8,"y":1},{"s":"As1","x":5.51,"y":1.05},{"s":"As1","x":6,"y":1.25},
{"s":"As2","x":-4.2,"y":0},{"s":"As2","x":-4.14,"y":0.65},{"s":"As2","x":-4.01,"y":1.65},{"s":"As2","x":-3.89,"y":1.45},{"s":"As2","x":-3.7,"y":2.05},{"s":"As2","x":-3.5,"y":1.65},{"s":"As2","x":-3.31,"y":2.05},{"s":"As2","x":-3.12,"y":1.85},{"s":"As2","x":-2.93,"y":2.66},{"s":"As2","x":-2.74,"y":2.05},{"s":"As2","x":-2.62,"y":2.46},{"s":"As2","x":-2.43,"y":2.05},{"s":"As2","x":-2.24,"y":2.86},{"s":"As2","x":-2.04,"y":2.46},{"s":"As2","x":-1.92,"y":3.67},{"s":"As2","x":-1.79,"y":3.27},{"s":"As2","x":-1.66,"y":3.47},{"s":"As2","x":-1.54,"y":4.88},{"s":"As2","x":-1.41,"y":4.27},{"s":"As2","x":-1.32,"y":5.69},{"s":"As2","x":-1.24,"y":6.29},{"s":"As2","x":-1.16,"y":4.07},{"s":"As2","x":-1.03,"y":3.27},{"s":"As2","x":-0.84,"y":2.46},{"s":"As2","x":-0.65,"y":1.65},{"s":"As2","x":-0.46,"y":1.25},{"s":"As2","x":-0.27,"y":0.65},{"s":"As2","x":-0.14,"y":0.25},{"s":"As2","x":0,"y":0.05},
{"s":"As2","x":0.85,"y":0},{"s":"As2","x":0.94,"y":0.1},{"s":"As2","x":1.45,"y":0.7},{"s":"As2","x":2.21,"y":0.93},{"s":"As2","x":2.8,"y":0.9},{"s":"As2","x":3.5,"y":1},{"s":"As2","x":4.24,"y":1.17},{"s":"As2","x":4.8,"y":1},{"s":"As2","x":5.51,"y":1.25},{"s":"As2","x":6,"y":0.95},
{"s":"As3","x":-4.2,"y":0},{"s":"As3","x":-4.14,"y":1.25},{"s":"As3","x":-4.04,"y":3.27},{"s":"As3","x":-3.95,"y":2.26},{"s":"As3","x":-3.86,"y":3.87},{"s":"As3","x":-3.76,"y":2.46},{"s":"As3","x":-3.63,"y":2.26},{"s":"As3","x":-3.44,"y":2.86},{"s":"As3","x":-3.25,"y":2.46},{"s":"As3","x":-3.06,"y":3.27},{"s":"As3","x":-2.93,"y":2.66},{"s":"As3","x":-2.74,"y":3.47},{"s":"As3","x":-2.55,"y":2.86},{"s":"As3","x":-2.36,"y":4.27},{"s":"As3","x":-2.17,"y":3.27},{"s":"As3","x":-1.98,"y":3.87},{"s":"As3","x":-1.79,"y":5.28},{"s":"As3","x":-1.66,"y":4.27},{"s":"As3","x":-1.47,"y":4.48},{"s":"As3","x":-1.35,"y":3.87},{"s":"As3","x":-1.09,"y":2.86},{"s":"As3","x":-0.84,"y":2.26},{"s":"As3","x":-0.58,"y":1.65},{"s":"As3","x":-0.33,"y":1.05},{"s":"As3","x":-0.14,"y":0.45},{"s":"As3","x":0,"y":0.05},
{"s":"As3","x":0.85,"y":0},{"s":"As3","x":0.94,"y":0.1},{"s":"As3","x":1.45,"y":0.8},{"s":"As3","x":2.21,"y":0.85},{"s":"As3","x":2.8,"y":0.95},{"s":"As3","x":3.5,"y":0.9},{"s":"As3","x":4.24,"y":1.1},{"s":"As3","x":4.8,"y":1.05},{"s":"As3","x":5.51,"y":1.15},{"s":"As3","x":6,"y":1.1}
],
"e":[
{"s":"Sn-s","x":-4.2,"y":0},{"s":"Sn-s","x":-4.08,"y":0.02},{"s":"Sn-s","x":-3.5,"y":0.01},{"s":"Sn-s","x":-3,"y":0.02},{"s":"Sn-s","x":-2,"y":0.01},{"s":"Sn-s","x":-1,"y":0.01},{"s":"Sn-s","x":0,"y":0},
{"s":"Sn-s","x":0.81,"y":0},{"s":"Sn-s","x":0.94,"y":0.05},{"s":"Sn-s","x":1.19,"y":0.24},{"s":"Sn-s","x":1.38,"y":0.34},{"s":"Sn-s","x":1.57,"y":0.26},{"s":"Sn-s","x":1.77,"y":0.21},{"s":"Sn-s","x":1.96,"y":0.13},{"s":"Sn-s","x":2.15,"y":0.18},{"s":"Sn-s","x":2.34,"y":0.1},{"s":"Sn-s","x":2.59,"y":0.08},{"s":"Sn-s","x":2.97,"y":0.05},{"s":"Sn-s","x":3.61,"y":0.06},{"s":"Sn-s","x":4.24,"y":0.05},{"s":"Sn-s","x":5.51,"y":0.03},{"s":"Sn-s","x":6,"y":0.03},
{"s":"Sn-p","x":-4.2,"y":0},{"s":"Sn-p","x":-4.04,"y":0.45},{"s":"Sn-p","x":-3.91,"y":0.56},{"s":"Sn-p","x":-3.79,"y":0.34},{"s":"Sn-p","x":-3.63,"y":0.45},{"s":"Sn-p","x":-3.38,"y":0.4},{"s":"Sn-p","x":-3.12,"y":0.34},{"s":"Sn-p","x":-2.87,"y":0.42},{"s":"Sn-p","x":-2.68,"y":0.34},{"s":"Sn-p","x":-2.49,"y":0.4},{"s":"Sn-p","x":-2.3,"y":0.29},{"s":"Sn-p","x":-2.17,"y":0.18},{"s":"Sn-p","x":-1.98,"y":0.13},{"s":"Sn-p","x":-1.6,"y":0.1},{"s":"Sn-p","x":-1.35,"y":0.13},{"s":"Sn-p","x":-1.09,"y":0.1},{"s":"Sn-p","x":-0.84,"y":0.08},{"s":"Sn-p","x":-0.46,"y":0.06},{"s":"Sn-p","x":-0.14,"y":0.03},{"s":"Sn-p","x":0,"y":0},
{"s":"Sn-p","x":0.81,"y":0},{"s":"Sn-p","x":0.94,"y":0.02},{"s":"Sn-p","x":1.45,"y":0.1},{"s":"Sn-p","x":1.83,"y":0.16},{"s":"Sn-p","x":2.21,"y":0.21},{"s":"Sn-p","x":2.59,"y":0.21},{"s":"Sn-p","x":2.97,"y":0.24},{"s":"Sn-p","x":3.48,"y":0.21},{"s":"Sn-p","x":3.99,"y":0.21},{"s":"Sn-p","x":4.5,"y":0.24},{"s":"Sn-p","x":5,"y":0.32},{"s":"Sn-p","x":5.51,"y":0.34},{"s":"Sn-p","x":5.77,"y":0.32},{"s":"Sn-p","x":6,"y":0.34},
{"s":"As1-p","x":-4.2,"y":0},{"s":"As1-p","x":-4.01,"y":0.34},{"s":"As1-p","x":-3.89,"y":0.37},{"s":"As1-p","x":-3.76,"y":0.34},{"s":"As1-p","x":-3.57,"y":0.4},{"s":"As1-p","x":-3.38,"y":0.45},{"s":"As1-p","x":-3.19,"y":0.5},{"s":"As1-p","x":-3.06,"y":0.61},{"s":"As1-p","x":-2.87,"y":0.53},{"s":"As1-p","x":-2.68,"y":0.51},{"s":"As1-p","x":-2.49,"y":0.56},{"s":"As1-p","x":-2.3,"y":0.64},{"s":"As1-p","x":-2.11,"y":0.69},{"s":"As1-p","x":-1.98,"y":0.83},{"s":"As1-p","x":-1.85,"y":0.75},{"s":"As1-p","x":-1.66,"y":0.96},{"s":"As1-p","x":-1.54,"y":0.83},{"s":"As1-p","x":-1.41,"y":0.67},{"s":"As1-p","x":-1.28,"y":0.88},{"s":"As1-p","x":-1.16,"y":1.1},{"s":"As1-p","x":-1.03,"y":0.77},{"s":"As1-p","x":-0.9,"y":0.64},{"s":"As1-p","x":-0.77,"y":0.56},{"s":"As1-p","x":-0.65,"y":0.5},{"s":"As1-p","x":-0.58,"y":0.61},{"s":"As1-p","x":-0.46,"y":1.46},{"s":"As1-p","x":-0.36,"y":0.99},{"s":"As1-p","x":-0.27,"y":0.56},{"s":"As1-p","x":-0.14,"y":0.24},{"s":"As1-p","x":0,"y":0.02},
{"s":"As1-p","x":0.81,"y":0},{"s":"As1-p","x":0.94,"y":0.03},{"s":"As1-p","x":1.32,"y":0.13},{"s":"As1-p","x":1.57,"y":0.18},{"s":"As1-p","x":1.96,"y":0.15},{"s":"As1-p","x":2.46,"y":0.15},{"s":"As1-p","x":2.97,"y":0.18},{"s":"As1-p","x":3.61,"y":0.19},{"s":"As1-p","x":4.24,"y":0.21},{"s":"As1-p","x":5,"y":0.24},{"s":"As1-p","x":5.51,"y":0.26},{"s":"As1-p","x":6,"y":0.26},
{"s":"As2-p","x":-4.2,"y":0},{"s":"As2-p","x":-4.08,"y":0.29},{"s":"As2-p","x":-3.95,"y":0.34},{"s":"As2-p","x":-3.82,"y":0.45},{"s":"As2-p","x":-3.7,"y":0.29},{"s":"As2-p","x":-3.5,"y":0.4},{"s":"As2-p","x":-3.38,"y":0.5},{"s":"As2-p","x":-3.25,"y":0.42},{"s":"As2-p","x":-3.06,"y":0.34},{"s":"As2-p","x":-2.87,"y":0.48},{"s":"As2-p","x":-2.68,"y":0.67},{"s":"As2-p","x":-2.55,"y":0.51},{"s":"As2-p","x":-2.43,"y":0.53},{"s":"As2-p","x":-2.24,"y":0.61},{"s":"As2-p","x":-2.11,"y":0.67},{"s":"As2-p","x":-1.98,"y":0.75},{"s":"As2-p","x":-1.85,"y":0.85},{"s":"As2-p","x":-1.73,"y":1.15},{"s":"As2-p","x":-1.6,"y":0.88},{"s":"As2-p","x":-1.47,"y":1.12},{"s":"As2-p","x":-1.35,"y":1.31},{"s":"As2-p","x":-1.24,"y":1.53},{"s":"As2-p","x":-1.16,"y":1.15},{"s":"As2-p","x":-1.03,"y":0.83},{"s":"As2-p","x":-0.9,"y":0.64},{"s":"As2-p","x":-0.77,"y":0.51},{"s":"As2-p","x":-0.58,"y":0.4},{"s":"As2-p","x":-0.39,"y":0.32},{"s":"As2-p","x":-0.2,"y":0.21},{"s":"As2-p","x":-0.08,"y":0.05},{"s":"As2-p","x":0,"y":0.01},
{"s":"As2-p","x":0.81,"y":0},{"s":"As2-p","x":0.94,"y":0.05},{"s":"As2-p","x":1.32,"y":0.18},{"s":"As2-p","x":1.57,"y":0.15},{"s":"As2-p","x":1.96,"y":0.15},{"s":"As2-p","x":2.46,"y":0.14},{"s":"As2-p","x":2.97,"y":0.17},{"s":"As2-p","x":3.61,"y":0.18},{"s":"As2-p","x":4.24,"y":0.21},{"s":"As2-p","x":4.88,"y":0.24},{"s":"As2-p","x":5.51,"y":0.24},{"s":"As2-p","x":6,"y":0.26},
{"s":"As3-p","x":-4.2,"y":0},{"s":"As3-p","x":-4.08,"y":0.56},{"s":"As3-p","x":-3.99,"y":0.67},{"s":"As3-p","x":-3.91,"y":0.51},{"s":"As3-p","x":-3.85,"y":0.94},{"s":"As3-p","x":-3.73,"y":0.61},{"s":"As3-p","x":-3.57,"y":0.45},{"s":"As3-p","x":-3.38,"y":0.69},{"s":"As3-p","x":-3.25,"y":0.59},{"s":"As3-p","x":-3.06,"y":0.5},{"s":"As3-p","x":-2.87,"y":0.59},{"s":"As3-p","x":-2.68,"y":0.45},{"s":"As3-p","x":-2.49,"y":0.5},{"s":"As3-p","x":-2.3,"y":1.07},{"s":"As3-p","x":-2.17,"y":0.61},{"s":"As3-p","x":-2.04,"y":0.5},{"s":"As3-p","x":-1.94,"y":0.91},{"s":"As3-p","x":-1.85,"y":0.72},{"s":"As3-p","x":-1.7,"y":1.31},{"s":"As3-p","x":-1.6,"y":0.99},{"s":"As3-p","x":-1.47,"y":0.83},{"s":"As3-p","x":-1.35,"y":0.72},{"s":"As3-p","x":-1.22,"y":0.5},{"s":"As3-p","x":-1.03,"y":0.45},{"s":"As3-p","x":-0.84,"y":0.37},{"s":"As3-p","x":-0.58,"y":0.29},{"s":"As3-p","x":-0.33,"y":0.21},{"s":"As3-p","x":-0.14,"y":0.16},{"s":"As3-p","x":-0.05,"y":0.02},{"s":"As3-p","x":0,"y":0},
{"s":"As3-p","x":0.81,"y":0},{"s":"As3-p","x":0.94,"y":0.03},{"s":"As3-p","x":1.19,"y":0.16},{"s":"As3-p","x":1.45,"y":0.24},{"s":"As3-p","x":1.7,"y":0.21},{"s":"As3-p","x":1.83,"y":0.34},{"s":"As3-p","x":1.96,"y":0.24},{"s":"As3-p","x":2.21,"y":0.21},{"s":"As3-p","x":2.97,"y":0.18},{"s":"As3-p","x":3.61,"y":0.19},{"s":"As3-p","x":4.24,"y":0.21},{"s":"As3-p","x":5,"y":0.24},{"s":"As3-p","x":5.51,"y":0.24},{"s":"As3-p","x":6,"y":0.26}
],
"f":[
{"s":"Sn-s","x":-4.2,"y":0},{"s":"Sn-s","x":-4.1,"y":0.05},{"s":"Sn-s","x":-4,"y":0.02},{"s":"Sn-s","x":-3.5,"y":0.02},{"s":"Sn-s","x":-2.5,"y":0.01},{"s":"Sn-s","x":-1.5,"y":0.01},{"s":"Sn-s","x":-0.5,"y":0.01},{"s":"Sn-s","x":0,"y":0},
{"s":"Sn-s","x":0.81,"y":0},{"s":"Sn-s","x":0.94,"y":0.04},{"s":"Sn-s","x":1.07,"y":0.16},{"s":"Sn-s","x":1.19,"y":0.2},{"s":"Sn-s","x":1.32,"y":0.28},{"s":"Sn-s","x":1.42,"y":0.39},{"s":"Sn-s","x":1.51,"y":0.35},{"s":"Sn-s","x":1.64,"y":0.3},{"s":"Sn-s","x":1.77,"y":0.22},{"s":"Sn-s","x":1.89,"y":0.14},{"s":"Sn-s","x":2.02,"y":0.11},{"s":"Sn-s","x":2.15,"y":0.13},{"s":"Sn-s","x":2.27,"y":0.09},{"s":"Sn-s","x":2.46,"y":0.06},{"s":"Sn-s","x":2.59,"y":0.08},{"s":"Sn-s","x":2.78,"y":0.04},{"s":"Sn-s","x":2.97,"y":0.03},{"s":"Sn-s","x":3.48,"y":0.05},{"s":"Sn-s","x":4.24,"y":0.03},{"s":"Sn-s","x":5,"y":0.04},{"s":"Sn-s","x":6,"y":0.03},
{"s":"Sn-p","x":-4.2,"y":0},{"s":"Sn-p","x":-4.1,"y":0.1},{"s":"Sn-p","x":-4.04,"y":0.41},{"s":"Sn-p","x":-3.95,"y":0.32},{"s":"Sn-p","x":-3.86,"y":0.59},{"s":"Sn-p","x":-3.73,"y":0.38},{"s":"Sn-p","x":-3.57,"y":0.35},{"s":"Sn-p","x":-3.38,"y":0.51},{"s":"Sn-p","x":-3.25,"y":0.38},{"s":"Sn-p","x":-3.06,"y":0.36},{"s":"Sn-p","x":-2.93,"y":0.32},{"s":"Sn-p","x":-2.81,"y":0.41},{"s":"Sn-p","x":-2.62,"y":0.35},{"s":"Sn-p","x":-2.43,"y":0.41},{"s":"Sn-p","x":-2.3,"y":0.32},{"s":"Sn-p","x":-2.11,"y":0.28},{"s":"Sn-p","x":-1.98,"y":0.32},{"s":"Sn-p","x":-1.85,"y":0.19},{"s":"Sn-p","x":-1.66,"y":0.12},{"s":"Sn-p","x":-1.47,"y":0.09},{"s":"Sn-p","x":-1.28,"y":0.08},{"s":"Sn-p","x":-1.09,"y":0.05},{"s":"Sn-p","x":-0.84,"y":0.06},{"s":"Sn-p","x":-0.58,"y":0.03},{"s":"Sn-p","x":-0.33,"y":0.01},{"s":"Sn-p","x":0,"y":0},
{"s":"Sn-p","x":0.81,"y":0},{"s":"Sn-p","x":0.94,"y":0.01},{"s":"Sn-p","x":1.19,"y":0.08},{"s":"Sn-p","x":1.45,"y":0.11},{"s":"Sn-p","x":1.7,"y":0.12},{"s":"Sn-p","x":1.96,"y":0.17},{"s":"Sn-p","x":2.08,"y":0.24},{"s":"Sn-p","x":2.27,"y":0.19},{"s":"Sn-p","x":2.46,"y":0.22},{"s":"Sn-p","x":2.72,"y":0.2},{"s":"Sn-p","x":2.97,"y":0.22},{"s":"Sn-p","x":3.23,"y":0.19},{"s":"Sn-p","x":3.48,"y":0.17},{"s":"Sn-p","x":3.73,"y":0.17},{"s":"Sn-p","x":3.99,"y":0.16},{"s":"Sn-p","x":4.24,"y":0.19},{"s":"Sn-p","x":4.5,"y":0.22},{"s":"Sn-p","x":4.75,"y":0.28},{"s":"Sn-p","x":5,"y":0.3},{"s":"Sn-p","x":5.26,"y":0.35},{"s":"Sn-p","x":5.51,"y":0.3},{"s":"Sn-p","x":5.7,"y":0.28},{"s":"Sn-p","x":5.83,"y":0.33},{"s":"Sn-p","x":6,"y":0.3},
{"s":"As1-px","x":-4.2,"y":0},{"s":"As1-px","x":-4.01,"y":0.14},{"s":"As1-px","x":-3.86,"y":0.19},{"s":"As1-px","x":-3.7,"y":0.14},{"s":"As1-px","x":-3.57,"y":0.25},{"s":"As1-px","x":-3.44,"y":0.32},{"s":"As1-px","x":-3.31,"y":0.25},{"s":"As1-px","x":-3.15,"y":0.33},{"s":"As1-px","x":-3.02,"y":0.25},{"s":"As1-px","x":-2.87,"y":0.28},{"s":"As1-px","x":-2.74,"y":0.25},{"s":"As1-px","x":-2.55,"y":0.22},{"s":"As1-px","x":-2.36,"y":0.19},{"s":"As1-px","x":-2.11,"y":0.2},{"s":"As1-px","x":-1.85,"y":0.12},{"s":"As1-px","x":-1.6,"y":0.11},{"s":"As1-px","x":-1.35,"y":0.09},{"s":"As1-px","x":-0.97,"y":0.08},{"s":"As1-px","x":-0.58,"y":0.04},{"s":"As1-px","x":-0.2,"y":0.01},{"s":"As1-px","x":0,"y":0},
{"s":"As1-px","x":0.81,"y":0},{"s":"As1-px","x":0.94,"y":0.01},{"s":"As1-px","x":1.32,"y":0.09},{"s":"As1-px","x":1.7,"y":0.14},{"s":"As1-px","x":1.96,"y":0.12},{"s":"As1-px","x":2.34,"y":0.09},{"s":"As1-px","x":2.97,"y":0.04},{"s":"As1-px","x":3.61,"y":0.06},{"s":"As1-px","x":4.3,"y":0.09},{"s":"As1-px","x":4.8,"y":0.1},{"s":"As1-px","x":5.26,"y":0.08},{"s":"As1-px","x":6,"y":0.08},
{"s":"As1-py","x":-4.2,"y":0},{"s":"As1-py","x":-4.08,"y":0.05},{"s":"As1-py","x":-3.86,"y":0.09},{"s":"As1-py","x":-3.63,"y":0.08},{"s":"As1-py","x":-3.38,"y":0.14},{"s":"As1-py","x":-3.19,"y":0.11},{"s":"As1-py","x":-3,"y":0.12},{"s":"As1-py","x":-2.74,"y":0.11},{"s":"As1-py","x":-2.49,"y":0.12},{"s":"As1-py","x":-2.3,"y":0.16},{"s":"As1-py","x":-2.11,"y":0.19},{"s":"As1-py","x":-1.98,"y":0.35},{"s":"As1-py","x":-1.85,"y":0.17},{"s":"As1-py","x":-1.66,"y":0.19},{"s":"As1-py","x":-1.47,"y":0.17},{"s":"As1-py","x":-1.35,"y":0.22},{"s":"As1-py","x":-1.22,"y":0.43},{"s":"As1-py","x":-1.12,"y":0.22},{"s":"As1-py","x":-0.97,"y":0.17},{"s":"As1-py","x":-0.77,"y":0.2},{"s":"As1-py","x":-0.65,"y":0.24},{"s":"As1-py","x":-0.56,"y":0.32},{"s":"As1-py","x":-0.51,"y":0.79},{"s":"As1-py","x":-0.46,"y":1.22},{"s":"As1-py","x":-0.38,"y":0.79},{"s":"As1-py","x":-0.33,"y":0.28},{"s":"As1-py","x":-0.2,"y":0.12},{"s":"As1-py","x":-0.08,"y":0.01},{"s":"As1-py","x":0,"y":0},
{"s":"As1-py","x":0.81,"y":0},{"s":"As1-py","x":0.94,"y":0.01},{"s":"As1-py","x":1.32,"y":0.06},{"s":"As1-py","x":1.7,"y":0.08},{"s":"As1-py","x":2.34,"y":0.04},{"s":"As1-py","x":2.97,"y":0.04},{"s":"As1-py","x":3.61,"y":0.04},{"s":"As1-py","x":4.24,"y":0.05},{"s":"As1-py","x":5,"y":0.06},{"s":"As1-py","x":5.51,"y":0.06},{"s":"As1-py","x":6,"y":0.07},
{"s":"As1-pz","x":-4.2,"y":0},{"s":"As1-pz","x":-4.08,"y":0.02},{"s":"As1-pz","x":-3.95,"y":0.08},{"s":"As1-pz","x":-3.76,"y":0.05},{"s":"As1-pz","x":-3.57,"y":0.08},{"s":"As1-pz","x":-3.38,"y":0.12},{"s":"As1-pz","x":-3.12,"y":0.12},{"s":"As1-pz","x":-2.87,"y":0.09},{"s":"As1-pz","x":-2.62,"y":0.16},{"s":"As1-pz","x":-2.36,"y":0.14},{"s":"As1-pz","x":-2.17,"y":0.28},{"s":"As1-pz","x":-2.04,"y":0.2},{"s":"As1-pz","x":-1.92,"y":0.32},{"s":"As1-pz","x":-1.83,"y":0.54},{"s":"As1-pz","x":-1.7,"y":0.44},{"s":"As1-pz","x":-1.54,"y":0.41},{"s":"As1-pz","x":-1.35,"y":0.32},{"s":"As1-pz","x":-1.16,"y":0.33},{"s":"As1-pz","x":-1.03,"y":0.41},{"s":"As1-pz","x":-0.9,"y":0.32},{"s":"As1-pz","x":-0.77,"y":0.35},{"s":"As1-pz","x":-0.65,"y":0.25},{"s":"As1-pz","x":-0.46,"y":0.16},{"s":"As1-pz","x":-0.27,"y":0.2},{"s":"As1-pz","x":-0.14,"y":0.09},{"s":"As1-pz","x":0,"y":0},
{"s":"As1-pz","x":0.81,"y":0},{"s":"As1-pz","x":0.94,"y":0.01},{"s":"As1-pz","x":1.7,"y":0.03},{"s":"As1-pz","x":2.97,"y":0.02},{"s":"As1-pz","x":3.61,"y":0.04},{"s":"As1-pz","x":4.24,"y":0.05},{"s":"As1-pz","x":5,"y":0.06},{"s":"As1-pz","x":5.51,"y":0.07},{"s":"As1-pz","x":6,"y":0.08}
]
},
"columns":2,
"spacing":{"row":12,"column":63},
"align":"each",
"bounds":"flush",
"resolve":{"scale":{"color":"independent","x":"independent","y":"independent"}},
"concat":[
{"title":{"text":"Ca₅Ga₂As₆","dx":-20,"offset":6},
"width":277,"height":124,
"layer":[
{"data":{"name":"a"},"mark":{"type":"line","strokeWidth":1.2,"clip":true},
"encoding":{
"x":{"field":"x","type":"quantitative","scale":{"domain":[-4,6],"nice":false,"zero":false},"axis":{"values":[-4,-3,-2,-1,0,1,2,3,4,5,6],"labels":false,"title":null,"tickSize":{"condition":{"test":"datum.value % 2 == 0","value":-10},"value":-5}}},
"y":{"field":"y","type":"quantitative","scale":{"domain":[0,15],"nice":false},"axis":{"values":[0,2.5,5,7.5,10,12.5,15],"tickSize":-8,"labelPadding":13,"labelExpr":"datum.value % 5 == 0 ? '' + datum.value : ''","title":null}},
"color":{"field":"s","type":"nominal","scale":{"domain":["Ga","Ca3","Ca2","Ca1","As1","As2","As3"],"range":["#2233ff","#33dd33","#ff2222","#000000","#c7d1d9","#a5739b","#eeee00"]},"legend":{"title":null,"orient":"none","legendX":19,"legendY":-1}}}},
{"data":{"values":[{"x":0}]},"mark":{"type":"rule","strokeDash":[6,4],"color":"#333","strokeWidth":1.3},"encoding":{"x":{"field":"x","type":"quantitative"}}},
{"data":{"values":[{"x":1.9,"y":13.1,"t":"(a)"}]},"mark":{"type":"text","fontSize":16,"font":"Liberation Serif"},"encoding":{"x":{"field":"x","type":"quantitative"},"y":{"field":"y","type":"quantitative"},"text":{"field":"t"}}}
]},
{"title":{"text":"Ca₅Sn₂As₆","dx":-28,"offset":6},
"width":277,"height":124,
"layer":[
{"data":{"name":"d"},"mark":{"type":"line","strokeWidth":1.2,"clip":true},
"encoding":{
"x":{"field":"x","type":"quantitative","scale":{"domain":[-4.5,6],"nice":false,"zero":false},"axis":{"values":[-4,-3,-2,-1,0,1,2,3,4,5,6],"labels":false,"title":null,"tickSize":{"condition":{"test":"datum.value % 2 == 0","value":-10},"value":-5}}},
"y":{"field":"y","type":"quantitative","scale":{"domain":[0,15],"nice":false},"axis":{"values":[0,2.5,5,7.5,10,12.5,15],"tickSize":-8,"labelPadding":13,"labelExpr":"datum.value % 5 == 0 ? '' + datum.value : ''","title":null}},
"color":{"field":"s","type":"nominal","scale":{"domain":["Ca1","Ca2","Ca3","Sn","As1","As2","As3"],"range":["#000000","#ff2222","#33dd33","#2233ff","#eeee00","#a5739b","#c7d1d9"]},"legend":{"title":null,"orient":"none","legendX":123,"legendY":-1}}}},
{"data":{"values":[{"x":0}]},"mark":{"type":"rule","strokeDash":[6,4],"color":"#555","strokeWidth":1.5},"encoding":{"x":{"field":"x","type":"quantitative"}}},
{"data":{"values":[{"x":-2.3,"y":13.1,"t":"(d)"}]},"mark":{"type":"text","fontSize":16,"font":"Liberation Serif"},"encoding":{"x":{"field":"x","type":"quantitative"},"y":{"field":"y","type":"quantitative"},"text":{"field":"t"}}}
]},
{"width":277,"height":124,
"layer":[
{"data":{"name":"b"},"mark":{"type":"line","strokeWidth":1.2,"clip":true},
"encoding":{
"x":{"field":"x","type":"quantitative","scale":{"domain":[-4,6],"nice":false,"zero":false},"axis":{"values":[-4,-3,-2,-1,0,1,2,3,4,5,6],"labels":false,"title":null,"tickSize":{"condition":{"test":"datum.value % 2 == 0","value":-10},"value":-5}}},
"y":{"field":"y","type":"quantitative","scale":{"domain":[0,2],"nice":false},"axis":{"values":[0,0.5,1,1.5,2],"tickSize":-8,"labelPadding":13,"labelExpr":"datum.value % 1 == 0 ? '' + datum.value : ''","title":"DOS (states/eV)","titlePadding":3}},
"color":{"field":"s","type":"nominal","scale":{"domain":["Ga-s","Ga-p","As1-p","As2-p","As3-p"],"range":["#000000","#ff2222","#eeee00","#2233ff","#33dd33"]},"legend":{"title":null,"orient":"none","legendX":19,"legendY":-1}}}},
{"data":{"values":[{"x":0}]},"mark":{"type":"rule","strokeDash":[6,4],"color":"#333","strokeWidth":1.3},"encoding":{"x":{"field":"x","type":"quantitative"}}},
{"data":{"values":[{"x":1.9,"y":1.76,"t":"(b)"}]},"mark":{"type":"text","fontSize":16,"font":"Liberation Serif"},"encoding":{"x":{"field":"x","type":"quantitative"},"y":{"field":"y","type":"quantitative"},"text":{"field":"t"}}}
]},
{"width":277,"height":124,
"layer":[
{"data":{"name":"e"},"mark":{"type":"line","strokeWidth":1.2,"clip":true},
"encoding":{
"x":{"field":"x","type":"quantitative","scale":{"domain":[-4.5,6],"nice":false,"zero":false},"axis":{"values":[-4,-3,-2,-1,0,1,2,3,4,5,6],"labels":false,"title":null,"tickSize":{"condition":{"test":"datum.value % 2 == 0","value":-10},"value":-5}}},
"y":{"field":"y","type":"quantitative","scale":{"domain":[0,2],"nice":false},"axis":{"values":[0,0.5,1,1.5,2],"tickSize":-8,"labelPadding":13,"labelExpr":"datum.value % 1 == 0 ? '' + datum.value : ''","title":null}},
"color":{"field":"s","type":"nominal","scale":{"domain":["Sn-s","Sn-p","As1-p","As2-p","As3-p"],"range":["#000000","#ff2222","#33dd33","#2233ff","#eeee00"]},"legend":{"title":null,"orient":"none","legendX":123,"legendY":-1}}}},
{"data":{"values":[{"x":0}]},"mark":{"type":"rule","strokeDash":[6,4],"color":"#555","strokeWidth":1.5},"encoding":{"x":{"field":"x","type":"quantitative"}}},
{"data":{"values":[{"x":-2.3,"y":1.76,"t":"(e)"}]},"mark":{"type":"text","fontSize":16,"font":"Liberation Serif"},"encoding":{"x":{"field":"x","type":"quantitative"},"y":{"field":"y","type":"quantitative"},"text":{"field":"t"}}}
]},
{"width":277,"height":128,
"layer":[
{"data":{"name":"c"},"mark":{"type":"line","strokeWidth":1.2,"clip":true},
"encoding":{
"x":{"field":"x","type":"quantitative","scale":{"domain":[-4,6],"nice":false,"zero":false},"axis":{"values":[-4,-3,-2,-1,0,1,2,3,4,5,6],"labelPadding":13,"labelExpr":"datum.value % 2 == 0 ? '' + datum.value : ''","title":"E-EF(eV)","titlePadding":2,"tickSize":{"condition":{"test":"datum.value % 2 == 0","value":-10},"value":-5}}},
"y":{"field":"y","type":"quantitative","scale":{"domain":[0,1.23],"nice":false},"axis":{"values":[0,0.25,0.5,0.75,1],"tickSize":-8,"labelPadding":13,"labelFlushOffset":3,"labelExpr":"datum.value == 0 ? '0' : datum.value == 0.5 ? '0.5' : datum.value == 1 ? '1' : ''","title":null}},
"color":{"field":"s","type":"nominal","scale":{"domain":["Ga-s","Ga-p","As1-px","As1-py","As1-pz"],"range":["#000000","#ff2222","#33dd33","#2233ff","#eeee00"]},"legend":{"title":null,"orient":"none","legendX":19,"legendY":-1}}}},
{"data":{"values":[{"x":0}]},"mark":{"type":"rule","strokeDash":[6,4],"color":"#333","strokeWidth":1.3},"encoding":{"x":{"field":"x","type":"quantitative"}}},
{"data":{"values":[{"x":1.9,"y":1.1,"t":"(c)"}]},"mark":{"type":"text","fontSize":16,"font":"Liberation Serif"},"encoding":{"x":{"field":"x","type":"quantitative"},"y":{"field":"y","type":"quantitative"},"text":{"field":"t"}}}
]},
{"width":277,"height":128,
"layer":[
{"data":{"name":"f"},"mark":{"type":"line","strokeWidth":1.2,"clip":true},
"encoding":{
"x":{"field":"x","type":"quantitative","scale":{"domain":[-4.5,6],"nice":false,"zero":false},"axis":{"values":[-4,-3,-2,-1,0,1,2,3,4,5,6],"labelPadding":13,"labelExpr":"datum.value % 2 == 0 ? '' + datum.value : ''","title":"E-EF(eV)","titlePadding":2,"tickSize":{"condition":{"test":"datum.value % 2 == 0","value":-10},"value":-5}}},
"y":{"field":"y","type":"quantitative","scale":{"domain":[0,1.23],"nice":false},"axis":{"values":[0,0.25,0.5,0.75,1],"tickSize":-8,"labelPadding":13,"labelFlushOffset":3,"labelExpr":"datum.value == 0 ? '0' : datum.value == 0.5 ? '0.5' : datum.value == 1 ? '1' : ''","title":null}},
"color":{"field":"s","type":"nominal","scale":{"domain":["Sn-s","Sn-p","As1-px","As1-py","As1-pz"],"range":["#000000","#ff2222","#33dd33","#2233ff","#eeee00"]},"legend":{"title":null,"orient":"none","legendX":123,"legendY":-1}}}},
{"data":{"values":[{"x":0}]},"mark":{"type":"rule","strokeDash":[6,4],"color":"#555","strokeWidth":1.5},"encoding":{"x":{"field":"x","type":"quantitative"}}},
{"data":{"values":[{"x":-2.3,"y":1.1,"t":"(f)"}]},"mark":{"type":"text","fontSize":16,"font":"Liberation Serif"},"encoding":{"x":{"field":"x","type":"quantitative"},"y":{"field":"y","type":"quantitative"},"text":{"field":"t"}}}
]}
]
}
